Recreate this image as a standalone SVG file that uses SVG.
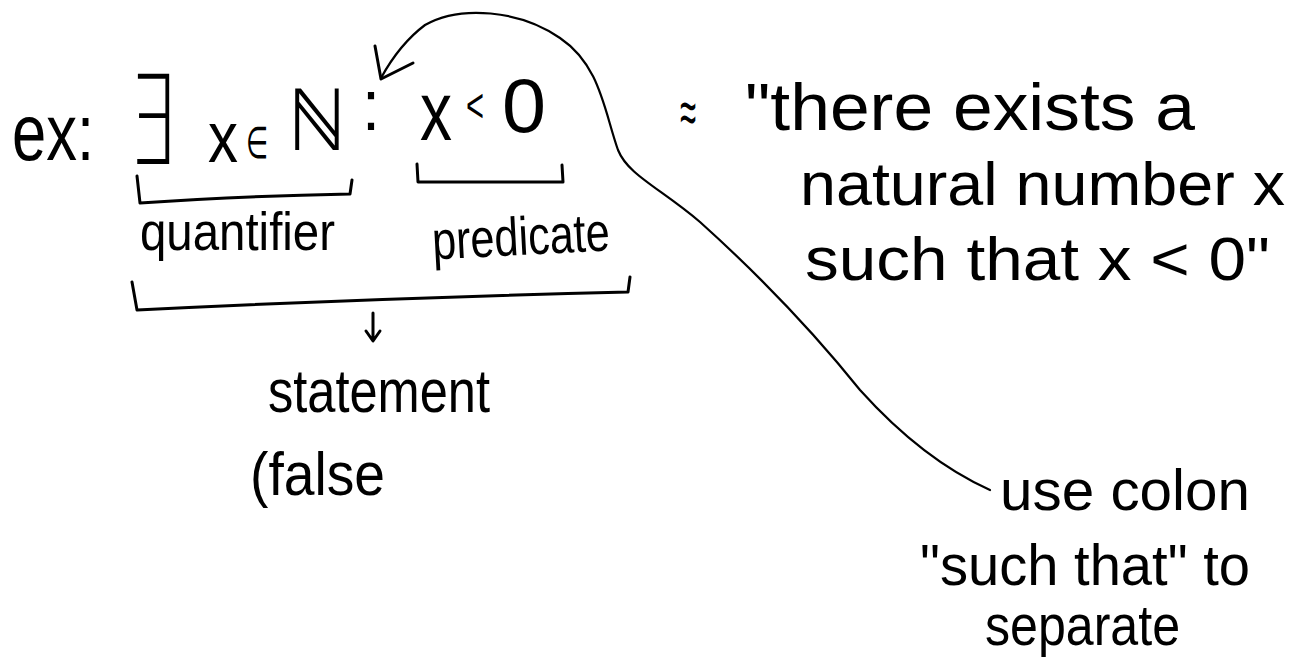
<svg xmlns="http://www.w3.org/2000/svg" width="1299" height="665" viewBox="0 0 1299 665">
<style>
text{font-family:"Liberation Sans","DejaVu Sans",sans-serif;fill:#000;}
.m{font-family:"DejaVu Sans","Liberation Sans",sans-serif;font-weight:200;}
.ln{fill:none;stroke:#000;stroke-width:3;stroke-linecap:round;stroke-linejoin:round;}
.thin{fill:none;stroke:#000;stroke-width:2.2;stroke-linecap:round;stroke-linejoin:round;}
</style>
<rect width="1299" height="665" fill="#fff"/>
<g id="expression">
<text x="12" y="160" font-size="80" textLength="82" lengthAdjust="spacingAndGlyphs">ex:</text>
<text class="m" x="128" y="164" font-size="124" textLength="48" lengthAdjust="spacingAndGlyphs">∃</text>
<text y="162"><tspan x="208" font-size="72" textLength="30" lengthAdjust="spacingAndGlyphs">x</tspan><tspan class="m" x="246" y="158" font-size="44" textLength="22" lengthAdjust="spacingAndGlyphs">∈</tspan><tspan class="m" x="288" y="150" font-size="86" textLength="58" lengthAdjust="spacingAndGlyphs">ℕ</tspan></text>
<text x="362" y="130" font-size="72" textLength="18" lengthAdjust="spacingAndGlyphs">:</text>
<text y="140"><tspan x="420" font-size="84" textLength="32" lengthAdjust="spacingAndGlyphs">x</tspan><tspan x="466" y="122" font-size="48" textLength="18" lengthAdjust="spacingAndGlyphs">&lt;</tspan><tspan x="502" y="132" font-size="76" textLength="44" lengthAdjust="spacingAndGlyphs">0</tspan></text>
</g>
<g id="quantifier">
<path class="ln" d="M137,176 L140,203 Q240,196 350,194 L352,180"/>
<text x="140" y="250" font-size="54" textLength="195" lengthAdjust="spacingAndGlyphs">quantifier</text>
</g>
<g id="predicate">
<path class="ln" d="M417,164 L418,182 L563,182 L562,165"/>
<text x="432" y="255" font-size="54" textLength="178" lengthAdjust="spacingAndGlyphs" transform="rotate(-3 520 240)">predicate</text>
</g>
<g id="statement">
<path class="ln" d="M132,282 L137,310 Q380,298 628,292 L630,277"/>
<text x="268" y="412" font-size="62" textLength="222" lengthAdjust="spacingAndGlyphs">statement</text>
<text x="250" y="495" font-size="62" textLength="135" lengthAdjust="spacingAndGlyphs">(false</text>
</g>
<g id="translation">
<text class="m" x="680" y="134" font-size="64" textLength="16" lengthAdjust="spacingAndGlyphs">≈</text>
<text x="745" y="130" font-size="66" textLength="450" lengthAdjust="spacingAndGlyphs">"there exists a</text>
<text x="800" y="205" font-size="62" textLength="485" lengthAdjust="spacingAndGlyphs">natural number x</text>
<text x="805" y="280" font-size="62" textLength="465" lengthAdjust="spacingAndGlyphs">such that x &lt; 0"</text>
</g>
<g id="note">
<text x="1000" y="510" font-size="58" textLength="250" lengthAdjust="spacingAndGlyphs">use colon</text>
<text x="920" y="585" font-size="58" textLength="330" lengthAdjust="spacingAndGlyphs">"such that" to</text>
<text x="985" y="645" font-size="58" textLength="195" lengthAdjust="spacingAndGlyphs">separate</text>
</g>
<g id="connectors">
<path class="ln" d="M373,313 L373,340 M366,331 L373,341 L380,331"/>
<path class="thin" d="M990,490 C950,472 905,440 860,390 C820,340 770,285 700,222 C660,188 628,175 618,150 C604,110 600,65 560,38 C520,10 460,5 425,25 C405,40 392,58 381,78"/>
<path class="ln" d="M375,46 L381,79 L413,63"/>
</g>
</svg>
